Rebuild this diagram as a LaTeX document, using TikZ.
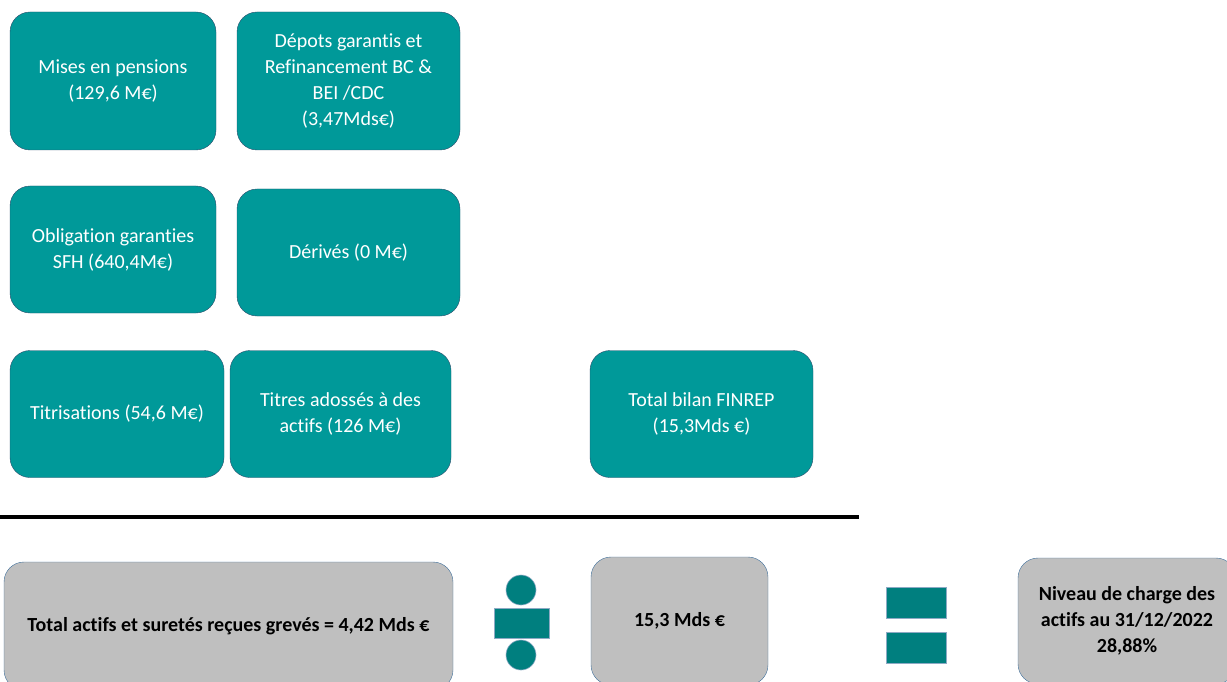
\documentclass[tikz,border=0pt]{standalone}
\usepackage{fontspec}
\setmainfont{Carlito}[Ligatures={NoCommon,NoRare,NoContextual}]
\usetikzlibrary{positioning}

\definecolor{tealbox}{HTML}{009999}
\definecolor{tealop}{HTML}{007F7F}
\definecolor{greybox}{HTML}{BFBFBF}
\definecolor{bordure}{HTML}{41719C}

\tikzset{
  actif/.style={draw=bordure!70!black, fill=tealbox, rounded corners=20pt, text=white,
    align=center, font=\fontsize{20}{26}\selectfont, inner sep=2pt},
  ratio/.style={draw=bordure, fill=greybox, rounded corners=20pt, text=black,
    align=center, font=\fontsize{20}{26}\selectfont\bfseries, inner sep=2pt},
  signe/.style={draw=bordure!60, fill=tealop, line width=0.6pt}
}

\begin{document}
\begin{tikzpicture}[x=1pt,y=-1pt]
  \useasboundingbox (0,0) rectangle (1227,682);
  \clip (0,0) rectangle (1227,682);

  % actifs greves
  \node[actif, minimum width=206pt, minimum height=138pt] (pensions) at (113,81) {Mises en pensions\\(129,6 M€)};
  \node[actif, minimum width=223pt, minimum height=138pt] (depots) at (348.5,81) {Dépots garantis et\\Refinancement BC \&\\BEI /CDC\\(3,47Mds€)};
  \node[actif, minimum width=206pt, minimum height=127pt] (sfh) at (113,249.5) {Obligation garanties\\SFH (640,4M€)};
  \node[actif, minimum width=223pt, minimum height=127pt] (derives) at (348.5,252.5) {Dérivés (0 M€)};
  \node[actif, minimum width=214pt, minimum height=127pt] (titrisations) at (117,414) {Titrisations (54,6 M€)};
  \node[actif, minimum width=221pt, minimum height=127pt] (titres) at (340.5,414) {Titres adossés à des\\actifs (126 M€)};
  \node[actif, minimum width=223pt, minimum height=127pt] (bilan) at (701.5,414) {Total bilan FINREP\\(15,3Mds €)};

  % trait de fraction
  \draw[line width=4.5pt] (0,517) -- (859,517);

  % calcul du ratio
  \node[ratio, minimum width=449pt, minimum height=128pt] (numerateur) at (228.5,626) {Total actifs et suretés reçues grevés = 4,42 Mds €};
  \node[ratio, minimum width=177pt, minimum height=128pt] (denominateur) at (679.5,621) {15,3 Mds €};
  \node[ratio, minimum width=218pt, minimum height=126pt] (niveau) at (1127,621) {Niveau de charge des\\actifs au 31/12/2022\\28,88\%};

  % division
  \draw[signe] (521,590) circle (15);
  \draw[signe] (494,608) rectangle (549,638);
  \draw[signe] (521,655) circle (15);
  % egal
  \draw[signe] (886,587) rectangle (946,618);
  \draw[signe] (886,632) rectangle (946,663);
\end{tikzpicture}
\end{document}
